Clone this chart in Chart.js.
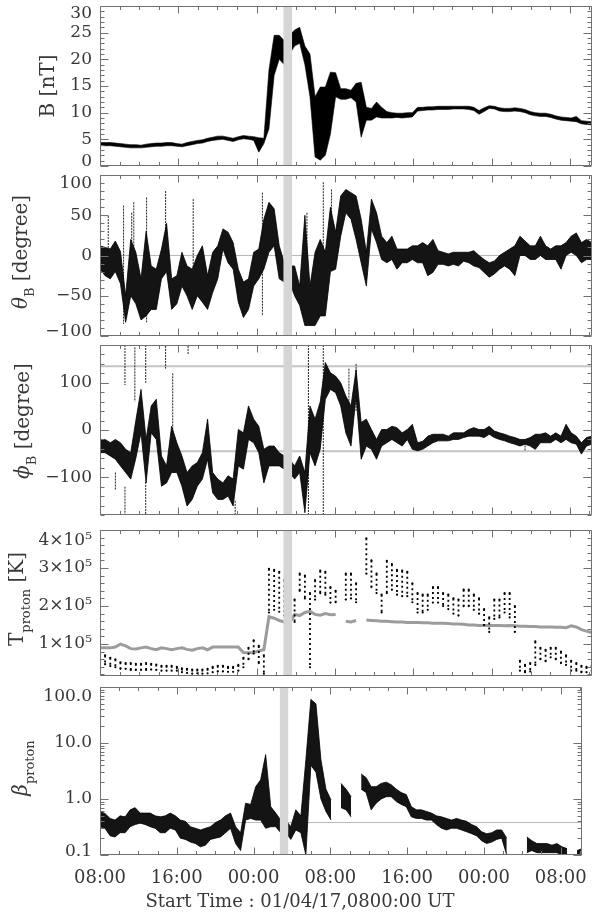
<!DOCTYPE html>
<html><head><meta charset="utf-8">
<script src="https://cdn.jsdelivr.net/npm/chart.js@4.4.1/dist/chart.umd.min.js"></script>
<style>
html,body{margin:0;padding:0;background:#fff;width:600px;height:917px;overflow:hidden;position:relative}
canvas{position:absolute;left:0}
</style></head><body>
<canvas id="c1"></canvas><canvas id="c2"></canvas><canvas id="c3"></canvas><canvas id="c4"></canvas><canvas id="c5"></canvas>
<script>
// ---------------- DATA ----------------
// sample times, hours after start (01/04/17 08:00 UT)
const hours = [0,0.52,1.05,1.57,2.09,2.62,3.14,3.66,4.19,4.71,5.23,5.75,6.28,6.80,7.32,7.85,8.37,8.89,9.42,9.94,10.46,10.99,11.51,12.03,12.56,13.08,13.60,14.13,14.65,15.17,15.70,16.22,16.74,17.26,17.79,18.31,18.83,19.36,19.88,20.40,20.93,21.45,21.97,22.50,23.02,23.54,24.07,24.59,25.11,25.64,26.16,26.68,27.21,27.73,28.25,28.77,29.30,29.82,30.34,30.87,31.39,31.91,32.44,32.96,33.48,34.01,34.53,35.05,35.58,36.10,36.62,37.15,37.67,38.19,38.72,39.24,39.76,40.28,40.81,41.33,41.85,42.38,42.90,43.42,43.95,44.47,44.99,45.52,46.04,46.56,47.09,47.61,48.13,48.66,49.18,49.70,50.23];
const timeAxisEnd = 50.23;
const xTicks = [0,8,16,24,32,40,48];
const xTickLabels = ['08:00','16:00','00:00','08:00','16:00','00:00','08:00'];
const shadeInterval = [18.72, 19.64];

// |B| [nT] : lower / upper edge of the trace
const bLo = [3.8,3.8,3.8,3.7,3.6,3.5,3.4,3.4,3.4,3.5, 3.6,3.7,3.7,3.8,3.8,3.7,3.6,3.8,4.0,4.2, 4.3,4.6,4.8,4.9,5.0,4.8,4.6,4.9,5.1,5.0, 4.8,2.6,4.2,7.0,17.0,20.0,19.0,21.0,22.5,23.0, 19.0,13.0,1.7,1.1,2.0,6.0,13.0,12.5,12.5,12.8, 12.0,5.4,8.6,8.6,9.2,9.0,9.0,9.0,9.1,9.0, 9.1,9.2,10.3,10.4,10.5,10.5,10.6,10.6,10.6,10.7, 10.7,10.7,10.6,10.4,9.7,10.2,10.8,10.7,10.3,10.2, 10.2,10.3,10.2,10.0,9.6,9.4,9.3,9.3,9.1,8.8, 8.6,8.5,8.4,8.3,7.9,7.8,7.7];
const bHi = [4.4,4.4,4.4,4.3,4.2,4.1,4.0,4.0,3.9,4.1, 4.2,4.3,4.3,4.4,4.4,4.2,4.1,4.4,4.6,4.8, 4.9,5.2,5.4,5.6,5.6,5.4,5.2,5.5,5.7,5.6, 5.5,5.3,5.2,18.0,24.5,24.5,23.5,24.5,25.5,26.0, 22.5,21.0,13.0,14.8,14.8,17.6,17.5,14.5,14.5,14.2, 15.5,15.7,11.0,10.8,12.0,11.0,10.2,10.0,9.9,9.9, 10.0,10.0,11.0,11.0,11.1,11.1,11.2,11.2,11.2,11.2, 11.2,11.2,11.2,11.0,10.4,10.9,11.3,11.2,10.9,10.8, 10.8,10.9,10.8,10.6,10.2,10.0,9.9,9.9,9.7,9.4, 9.2,9.1,9.0,9.3,8.5,8.4,8.3];
const bTicks = [0,5,10,15,20,25,30];
const bTickLabels = ['0','5','10','15','20','25','30'];

// theta_B [degree]
const thetaLo = [-17,-25,-29,-20,-35,-83,-50,-60,-80,-75, -67,-67,-29,-20,-67,-60,-38,-50,-67,-50, -58,-67,-46,-29,8,-9,-17,-58,-77,-67, -38,-29,-17,4,12,-29,-33,-33,-50,-62, -87,-87,-87,-75,-75,-20,-17,24,53,45, 20,-9,-38,33,16,-5,-9,-5,-17,-9, -9,-5,-9,-9,-25,-21,-11,-11,-13,-11, -13,-7,-9,-13,-15,-21,-27,-23,-17,-13, -17,-25,0,0,-5,-5,0,-5,-5,-5, -17,0,4,0,-9,-5,-5];
const thetaHi = [12,10,8,18,5,-50,20,4,-29,30, -13,-17,8,40,-29,-25,4,-13,-17,0, 12,-25,4,12,33,29,16,-17,-33,-29, 4,8,45,66,58,12,-9,-13,-13,-38, 50,-38,4,20,4,60,29,74,82,78, 74,45,4,70,53,24,16,24,8,8, 8,12,12,16,12,20,6,4,2,4, 4,4,4,6,0,-5,-9,-7,0,4, 8,12,24,18,12,12,24,12,8,12, 12,16,24,28,16,20,16];
const thetaSpikeHours = [0.84,2.41,3.24,3.45,4.76,6.70,9.52,16.59,21.14,22.81,23.65];
const thetaSpikeTop = [49,62,53,66,72,80,70,78,53,91,82];
const thetaSpikeBottom = [0,-85,-20,0,-83,-10,-15,-75,-20,-15,20];
const thetaRefLines = [0];
const thetaTicks = [-100,-50,0,50,100];
const thetaTickLabels = ['\u2212100','\u221250','0','50','100'];

// phi_B [degree]
const phiLo = [-48,-48,-55,-62,-76,-90,-104,-60,-6,-112, -6,-20,-119,-112,-90,-90,-119,-161,-147,-119, -104,-62,-133,-147,-147,-140,-161,-76,-83,-20, -27,-48,-112,-76,-76,-76,-83,-90,-104,-90, -175,-48,-76,-40,65,86,79,51,-6,-34, 72,-62,-34,-41,-62,-34,-27,-20,-27,-34, -20,-41,-44,-41,-34,-27,-23,-23,-23,-20, -20,-16,-13,-13,-13,-16,-9,-16,-20,-23, -27,-30,-34,-30,-34,-41,-27,-27,-27,-20, -27,-20,-27,-30,-51,-34,-30];
const phiHi = [-20,-20,-27,-20,-27,-41,-48,20,86,-20, 51,65,-55,-76,8,-27,-55,-90,-76,-69, -48,23,-90,-104,-112,-97,-104,1,-6,51, 23,8,-41,-34,-34,-48,-55,-62,-76,-55, -90,51,23,60,143,121,114,100,72,51, 128,16,23,1,-20,1,1,8,5,-6, 1,12,-27,-24,-13,-9,-9,-9,-13,-6, -6,-6,1,5,1,1,8,-2,-6,-9, -13,-16,-20,-20,-16,-9,-9,-6,-13,-6, -13,12,-6,-13,-27,-16,-13];
const phiSpikeHours = [1.57,2.55,2.55,3.56,4.67,4.67,6.70,7.43,9.00,13.81,21.29,22.81,25.43,26.16,43.42];
const phiSpikeTop = [-90,180,-120,175,180,-110,178,120,178,-150,180,180,130,140,-20];
const phiSpikeBottom = [-126,95,-180,60,100,-180,130,-20,160,-178,-180,-180,10,40,-44];
const phiRefLines = [135,-45];
const phiTicks = [-100,0,100];
const phiTickLabels = ['\u2212100','0','100'];

// T_proton [10^5 K] : measured (black) lower/upper, expected (gray)
const tLo = [0.47,0.47,0.42,0.39,0.35,0.35,0.32,0.32,0.32,0.32, 0.33,0.32,0.30,0.30,0.30,0.30,0.26,0.24,0.22,0.23, 0.22,0.23,0.26,0.28,0.28,0.27,0.27,0.30,0.39,0.60, 0.75,0.50,0.22,1.83,1.90,1.85,1.75,1.70,1.58,2.40, 2.20,0.39,2.17,2.34,2.30,2.09,2.10,null,2.17,2.20, 2.10,null,2.85,2.50,2.34,1.83,2.34,2.43,2.30,2.26, 2.26,2.10,1.83,1.83,1.90,2.09,2.09,2.00,1.92,1.80, 1.75,2.00,2.00,1.90,1.80,1.50,1.32,1.66,1.70,1.83, 1.70,1.32,0.30,0.26,0.28,0.45,0.60,0.55,0.65,0.60, 0.50,0.45,0.30,0.30,0.26,0.26,0.30];
const tHi = [0.73,0.70,0.64,0.60,0.52,0.50,0.50,0.48,0.48,0.50, 0.48,0.46,0.43,0.43,0.43,0.40,0.36,0.35,0.33,0.33, 0.33,0.35,0.40,0.43,0.43,0.40,0.40,0.45,0.64,0.90, 1.10,0.95,0.70,2.98,2.95,2.90,2.68,2.40,2.17,2.85, 2.80,2.34,2.68,2.93,2.90,2.50,2.40,null,2.85,2.85, 2.60,null,3.78,3.20,2.85,2.30,3.19,3.10,2.95,2.93, 2.90,2.60,2.34,2.30,2.30,2.50,2.50,2.34,2.30,2.20, 2.17,2.43,2.43,2.30,2.20,1.92,1.70,2.17,2.17,2.34, 2.34,2.00,0.56,0.45,0.50,1.07,0.90,0.85,0.90,0.90, 0.80,0.70,0.56,0.50,0.43,0.40,0.43];
const tExpected = [0.90,0.90,0.90,0.92,1.00,0.95,0.88,0.87,0.90,0.92, 0.88,0.85,0.90,0.88,0.85,0.88,0.90,0.86,0.84,0.88, 0.90,0.85,0.92,0.92,0.92,0.92,0.92,0.92,0.78,0.77, 0.78,0.82,0.85,1.72,1.68,1.62,1.58,1.55,1.78,1.75, 1.83,1.86,1.78,1.76,1.80,1.77,1.78,null,1.60,1.58, 1.62,null,1.63,1.62,1.61,1.60,1.60,1.59,1.58,1.58, 1.57,1.57,1.57,1.56,1.56,1.55,1.55,1.55,1.54,1.53, 1.53,1.52,1.50,1.50,1.49,1.49,1.49,1.49,1.49,1.48, 1.49,1.48,1.47,1.47,1.46,1.46,1.45,1.45,1.45,1.44, 1.44,1.43,1.48,1.45,1.38,1.34,1.30];
const tTicks = [1,2,3,4];
const tTickLabels = ['1\u00d710\u2075','2\u00d710\u2075','3\u00d710\u2075','4\u00d710\u2075'];

// beta_proton
const betaLo = [0.32,0.30,0.22,0.21,0.25,0.25,0.32,0.35,0.37,0.35, 0.32,0.30,0.25,0.25,0.30,0.28,0.20,0.19,0.17,0.16, 0.14,0.15,0.19,0.20,0.21,0.25,0.30,0.16,0.12,0.42, 0.45,0.42,0.42,0.30,0.32,0.32,0.25,0.25,0.19,0.28, 0.25,0.10,4.0,3.0,1.0,0.60,0.42,null,0.70,0.64, 0.48,null,1.5,1.3,0.64,0.84,1.0,1.1,1.1,0.90, 0.80,0.73,0.48,0.45,0.45,0.42,0.42,0.35,0.30,0.28, 0.30,0.30,0.28,0.26,0.24,0.22,0.18,0.16,0.17,0.19, 0.20,0.10,null,null,null,0.11,0.12,0.11,0.11,0.11, 0.11,0.11,0.10,0.10,null,0.10,0.10];
const betaHi = [0.60,0.55,0.45,0.42,0.50,0.48,0.64,0.70,0.56,0.56, 0.56,0.50,0.48,0.50,0.56,0.50,0.42,0.40,0.32,0.30, 0.28,0.30,0.32,0.38,0.42,0.50,0.56,0.32,0.25,0.84, 0.80,1.66,2.2,6.2,0.73,0.56,0.42,0.42,0.32,0.64, 0.50,5.0,60,50,5.0,1.5,0.96,null,1.9,1.5, 1.1,null,2.8,2.4,1.66,1.66,1.9,2.0,1.8,1.5, 1.3,1.2,0.73,0.64,0.64,0.60,0.56,0.50,0.48,0.45, 0.42,0.45,0.42,0.40,0.35,0.32,0.26,0.24,0.25,0.28, 0.28,0.20,null,null,null,0.21,0.18,0.16,0.16,0.16, 0.15,0.16,0.14,0.13,null,0.12,0.13];
const betaRefLines = [0.38];
const betaTicks = [0.1,1,10,100];
const betaTickLabels = ['0.1','1.0','10.0','100.0'];

// ---------------- STYLE / HELPERS ----------------
const FONT = '"DejaVu Serif", "Liberation Serif", serif';
const TEXT = '#383838';
const FRAME = '#707070';
const PAD = 25;
Chart.defaults.font.family = FONT;
Chart.defaults.animation = false;

const pts = (ys) => hours.map((t, i) => ({x: t, y: ys[i]}));
function columns(ts, tops, bots) {
  const d = [];
  ts.forEach((t, i) => { d.push({x: t, y: tops[i]}, {x: t, y: bots[i]}, {x: t, y: null}); });
  return d;
}
const line = (data, o) => Object.assign({data, pointRadius: 0, borderWidth: 1, borderColor: '#000', fill: false, tension: 0, spanGaps: false}, o);
const refLine = (v) => line([{x: 0, y: v}, {x: timeAxisEnd, y: v}], {borderColor: '#b8b8b8', borderWidth: 1, order: 20});
const shade = (top) => line([{x: shadeInterval[0], y: top}, {x: shadeInterval[1], y: top}], {borderWidth: 0, fill: 'start', backgroundColor: '#d5d5d5', order: -10});

const framePlugin = {
  id: 'frame',
  afterDatasetsDraw(chart, args, o) {
    const {ctx, chartArea: a} = chart;
    const xs = chart.scales.x, ys = chart.scales.y;
    const L = Math.round(a.left) + 0.5, R = Math.round(a.right) - 0.5, T = Math.round(a.top) + 0.5, B = Math.round(a.bottom) - 0.5;
    ctx.save();
    ctx.strokeStyle = FRAME; ctx.lineWidth = 1;
    ctx.beginPath();
    ctx.rect(L, T, R - L, B - T);
    for (let h = 0; h <= timeAxisEnd; h += 2) {
      const p = Math.round(xs.getPixelForValue(h)) + 0.5;
      const len = (h % 8 === 0) ? 7 : 3.5;
      ctx.moveTo(p, B); ctx.lineTo(p, B - len);
      ctx.moveTo(p, T); ctx.lineTo(p, T + len);
    }
    for (const v of o.yMinor) {
      const p = Math.round(ys.getPixelForValue(v)) + 0.5;
      const len = o.yMajor.includes(v) ? 8 : 4;
      ctx.moveTo(L, p); ctx.lineTo(L + len, p);
      ctx.moveTo(R, p); ctx.lineTo(R - len, p);
    }
    ctx.stroke();
    ctx.restore();
  }
};

const titlePlugin = {
  id: 'ytitle',
  afterDraw(chart, args, o) {
    const ctx = chart.ctx;
    const size = 20, sub = 13;
    const off = o.canvasTop;
    ctx.save();
    let w = 0;
    const segs = o.parts.map(p => {
      const f = (p.italic ? 'italic ' : '') + (p.sub ? sub : size) + 'px ' + FONT;
      ctx.font = f;
      const m = ctx.measureText(p.text).width;
      w += m;
      return Object.assign({f, m}, p);
    });
    ctx.translate(o.x, o.y - off);
    ctx.rotate(-Math.PI / 2);
    ctx.fillStyle = TEXT;
    ctx.textBaseline = 'alphabetic';
    let cx = -w / 2;
    const base = size * 0.36;
    for (const s of segs) {
      ctx.font = s.f;
      ctx.fillText(s.text, cx, base + (s.sub ? size * 0.32 : 0));
      cx += s.m;
    }
    ctx.restore();
    if (o.xTitle) {
      ctx.save();
      ctx.font = '18px ' + FONT;
      ctx.fillStyle = TEXT;
      ctx.textAlign = 'center';
      ctx.textBaseline = 'middle';
      ctx.fillText(o.xTitle.text, o.xTitle.x, o.xTitle.y - off);
      ctx.restore();
    }
  }
};

function makePanel(id, boxTop, boxBottom, cfg) {
  const last = cfg.last === true;
  const boxH = boxBottom - boxTop;
  const xH = 62;
  const h = boxH + PAD + (last ? xH : PAD);
  const top = boxTop - PAD;
  const cv = document.getElementById(id);
  cv.width = 600; cv.height = h;
  cv.style.top = top + 'px';
  cv.style.width = '600px'; cv.style.height = h + 'px';
  const n = cfg.yTicks.length;
  cfg.title.canvasTop = top;
  const yScale = {
    type: cfg.log ? 'logarithmic' : 'linear',
    min: cfg.min, max: cfg.max,
    afterBuildTicks: (s) => { s.ticks = cfg.yTicks.map(v => ({value: v})); },
    afterFit: (s) => { s.width = 100; },
    grid: {display: false, drawTicks: false},
    border: {display: false},
    ticks: {
      color: TEXT, padding: 8, autoSkip: false,
      font: (c) => {
        let lh = 1.2;
        if (c.index === n - 1 && cfg.topNudge) lh = (2 * cfg.topNudge) + 'px';
        if (c.index === 0 && cfg.bottomNudge) lh = (2 * cfg.bottomNudge) + 'px';
        return {family: FONT, size: 17, lineHeight: lh};
      },
      callback: (v, i) => {
        const lab = cfg.yLabels[i];
        if (i === n - 1 && cfg.topNudge) return ['', lab];
        if (i === 0 && cfg.bottomNudge) return [lab, ''];
        return lab;
      }
    }
  };
  const xScale = {
    type: 'linear', min: 0, max: timeAxisEnd,
    display: last,
    afterBuildTicks: (s) => { s.ticks = xTicks.map(v => ({value: v})); },
    afterFit: (s) => { s.height = last ? xH : 0; },
    grid: {display: false, drawTicks: false},
    border: {display: false},
    ticks: {color: TEXT, padding: 13, autoSkip: false, maxRotation: 0, font: {family: FONT, size: 18},
      callback: (v, i) => xTickLabels[i]}
  };
  return new Chart(cv, {
    type: 'line',
    data: {datasets: cfg.datasets},
    options: {
      responsive: false, animation: false, events: [],
      layout: {padding: {left: 0, right: 8.3, top: PAD, bottom: last ? 0 : PAD}},
      plugins: {legend: {display: false}, tooltip: {enabled: false},
        frame: {yMajor: cfg.yTicks, yMinor: cfg.yMinor},
        ytitle: cfg.title},
      scales: {x: xScale, y: yScale}
    },
    plugins: [framePlugin, titlePlugin]
  });
}
function steps(a, b, s) { const r = []; for (let v = a; v <= b + 1e-9; v += s) r.push(Math.round(v * 1000) / 1000); return r; }

// ---------------- PANELS ----------------
makePanel('c1', 6, 166, {
  min: 0, max: 30, yTicks: bTicks, yLabels: bTickLabels, yMinor: steps(0, 30, 1), topNudge: 7.5, bottomNudge: 4.2,
  title: {x: 47, y: 86, parts: [{text: 'B [nT]'}]},
  datasets: [
    line(pts(bLo), {borderWidth: 0.6}),
    line(pts(bHi), {borderWidth: 0.6, fill: '-1', backgroundColor: '#000'}),
    shade(30)
  ]
});

makePanel('c2', 175, 336, {
  min: -100, max: 100, yTicks: thetaTicks, yLabels: thetaTickLabels, yMinor: steps(-100, 100, 10), topNudge: 8.3, bottomNudge: 4.3,
  title: {x: 20, y: 252, parts: [{text: '\u03b8', italic: true}, {text: 'B', sub: true}, {text: ' [degree]'}]},
  datasets: [
    ...thetaRefLines.map(refLine),
    line(pts(thetaLo), {borderWidth: 0.8}),
    line(pts(thetaHi), {borderWidth: 0.8, fill: '-1', backgroundColor: '#141414'}),
    line(columns(thetaSpikeHours, thetaSpikeTop, thetaSpikeBottom), {borderWidth: 1, borderColor: '#222', borderDash: [2, 1]}),
    shade(100)
  ]
});

makePanel('c3', 345, 515, {
  min: -180, max: 180, yTicks: phiTicks, yLabels: phiTickLabels, yMinor: steps(-180, 180, 20).concat(phiTicks),
  title: {x: 22, y: 421, parts: [{text: '\u03d5', italic: true}, {text: 'B', sub: true}, {text: ' [degree]'}]},
  datasets: [
    ...phiRefLines.map(v => Object.assign(refLine(v), {borderWidth: 2, borderColor: '#c4c4c4'})),
    line(pts(phiLo), {borderWidth: 0.8}),
    line(pts(phiHi), {borderWidth: 0.8, fill: '-1', backgroundColor: '#141414'}),
    line(columns(phiSpikeHours, phiSpikeTop, phiSpikeBottom), {borderWidth: 1, borderColor: '#222', borderDash: [2, 1]}),
    shade(180)
  ]
});

makePanel('c4', 525, 676, {
  min: 0.16, max: 4, yTicks: tTicks, yLabels: tTickLabels, yMinor: steps(0.2, 4, 0.2), topNudge: 11,
  title: {x: 16, y: 599, parts: [{text: 'T'}, {text: 'proton', sub: true}, {text: ' [K]'}]},
  datasets: [
    line(pts(tExpected), {borderColor: '#9c9c9c', borderWidth: 3, order: 5}),
    line(columns(hours, tHi, tLo), {borderColor: '#000', borderWidth: 1.8, borderDash: [2, 3], order: 0}),
    line(pts(tHi), {showLine: false, pointRadius: 1.1, pointBackgroundColor: '#000', pointBorderWidth: 0, order: 0}),
    line(pts(tLo), {showLine: false, pointRadius: 1.1, pointBackgroundColor: '#000', pointBorderWidth: 0, order: 0}),
    shade(4)
  ]
});

const betaMinor = [];
[0.1, 1, 10].forEach(d => { for (let k = 1; k <= 9; k++) betaMinor.push(Math.round(d * k * 1000) / 1000); });
betaMinor.push(100);
makePanel('c5', 685, 855, {
  log: true, last: true,
  min: 0.1, max: 100, yTicks: betaTicks, yLabels: betaTickLabels, yMinor: betaMinor, topNudge: 9.5, bottomNudge: 3.3,
  title: {x: 20, y: 768, parts: [{text: '\u03b2', italic: true}, {text: 'proton', sub: true}],
    xTitle: {text: 'Start Time : 01/04/17,0800:00 UT', x: 300, y: 902}},
  datasets: [
    ...betaRefLines.map(refLine),
    line(pts(betaLo), {borderWidth: 0.8}),
    line(pts(betaHi), {borderWidth: 0.8, fill: '-1', backgroundColor: '#141414'}),
    shade(100)
  ]
});
</script>
</body></html>
